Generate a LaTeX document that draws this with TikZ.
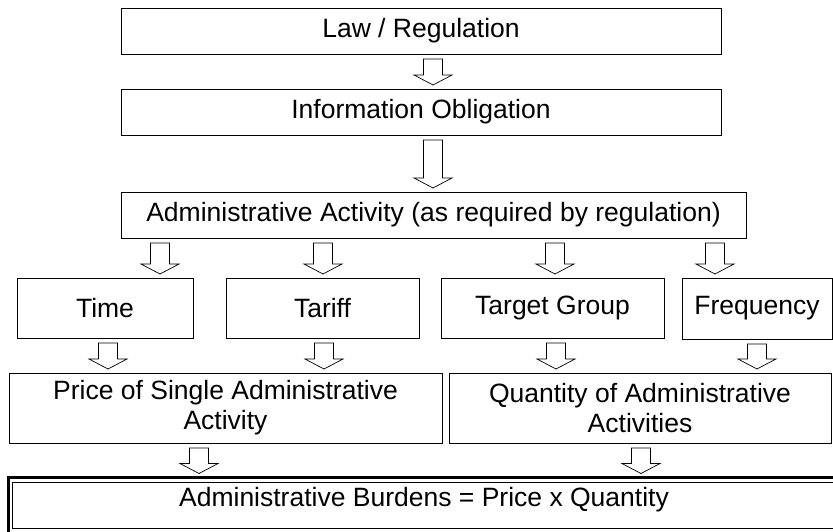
\documentclass[tikz,border=0pt]{standalone}
\usepackage{fontspec}
\setmainfont{Liberation Sans}
\usetikzlibrary{positioning}

\begin{document}
\begin{tikzpicture}[
    x=1pt, y=-1pt,
    font=\fontsize{26.5}{30}\selectfont,
    stage/.style={draw, line width=0.8pt, align=center, inner sep=0pt, outer sep=0pt},
    blockarrow/.style={draw, line width=0.7pt, fill=white, line join=miter}
]

\useasboundingbox (0,0) rectangle (833,531);

% regulation chain
\node[stage, minimum width=600pt, minimum height=46pt] (law) at (421,31) {Law / Regulation};
\node[stage, minimum width=600pt, minimum height=46pt] (info) at (421,112) {Information Obligation};
\node[stage, minimum width=625pt, minimum height=46pt] (admin) at (433.5,215)
    {Administrative Activity (as required by regulation)};

% cost factors
\node[stage, minimum width=176pt, minimum height=60pt] (time) at (105,308) {Time};
\node[stage, minimum width=193pt, minimum height=60pt] (tariff) at (322.5,308) {Tariff};
\node[stage, minimum width=223pt, minimum height=60pt] (target) at (552.5,308) {Target Group};
\node[stage, minimum width=150pt, minimum height=61pt] (freq) at (757,308.5) {Frequency};

% price and quantity
\node[stage, minimum width=433pt, minimum height=70pt] (price) at (225.5,408)
    {Price of Single Administrative\\Activity};
\node[stage, minimum width=382pt, minimum height=70pt] (quantity) at (640,408)
    {Quantity of Administrative\\Activities};

% result, framed thick-thin
\node[inner sep=0pt, outer sep=0pt, minimum width=831pt, minimum height=45pt] (burden) at (424,500)
    {Administrative Burdens = Price x Quantity};
\draw[line width=3pt] (burden.north west) rectangle ([yshift=-15pt]burden.south east);
\draw[line width=0.8pt] ([shift={(4pt,-4.5pt)}]burden.north west)
    rectangle ([shift={(-4pt,-5.5pt)}]burden.south east);

% hollow arrows between the stages
\foreach \src/\dst/\x in {law/info/433, info/admin/433,
    admin/time/160, admin/tariff/323, admin/target/555, admin/freq/715,
    time/price/108, tariff/price/324, target/quantity/556, freq/quantity/757,
    price/burden/199, quantity/burden/641}{
  \path (\x,0 |- \src.south) coordinate (atop)
        (\x,0 |- \dst.north) coordinate (atip);
  \draw[blockarrow] ([shift={(-9.5pt,-5pt)}]atop) -- ([shift={(9.5pt,-5pt)}]atop)
    -- ([shift={(9.5pt,14pt)}]atip) -- ([shift={(19pt,14pt)}]atip)
    -- ([yshift=4pt]atip) -- ([shift={(-19pt,14pt)}]atip)
    -- ([shift={(-9.5pt,14pt)}]atip) -- cycle;
}

\end{tikzpicture}
\end{document}
